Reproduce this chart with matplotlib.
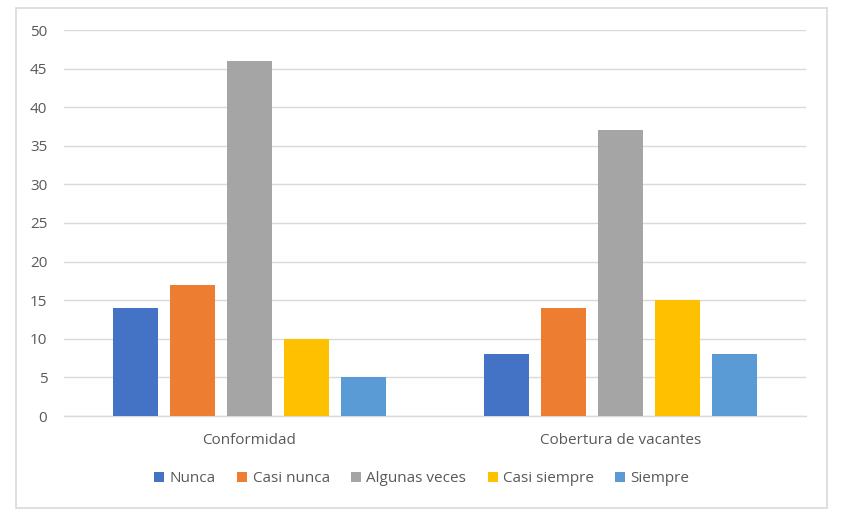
import matplotlib.pyplot as plt
import matplotlib.patches as mpatches
import numpy as np

categorias = ["Conformidad", "Cobertura de vacantes"]
series = ["Nunca", "Casi nunca", "Algunas veces", "Casi siempre", "Siempre"]
nunca = [14, 8]
casi_nunca = [17, 14]
algunas_veces = [46, 37]
casi_siempre = [10, 15]
siempre = [5, 8]

valores = [nunca, casi_nunca, algunas_veces, casi_siempre, siempre]
colores = ["#4472C4", "#ED7D31", "#A5A5A5", "#FFC000", "#5B9BD5"]

plt.rcParams['font.family'] = ['Open Sans', 'DejaVu Sans']

fig = plt.figure(figsize=(8.44, 5.16), dpi=100)
ax = fig.add_axes([64 / 844, 100 / 516, 742 / 844, 386 / 516])

x = np.arange(len(categorias))
ancho = 45 / 371
paso = 57 / 371
for i, (nombre, vals) in enumerate(zip(series, valores)):
    ax.bar(x + (i - 2) * paso, vals, width=ancho, color=colores[i], label=nombre, zorder=3)

ax.set_xlim(-0.5, 1.5)
ax.set_ylim(0, 50)
ax.set_yticks(range(0, 51, 5))
ax.set_xticks(x)
ax.set_xticklabels(categorias)
ax.yaxis.grid(True, color="#D9D9D9", linewidth=1, zorder=0)
for s in ["top", "right", "left"]:
    ax.spines[s].set_visible(False)
ax.spines["bottom"].set_color("#D9D9D9")
ax.spines["bottom"].set_linewidth(1)
ax.tick_params(axis="both", length=0, labelsize=11, colors="#595959")
ax.tick_params(axis="y", pad=12)
ax.tick_params(axis="x", pad=12)

fig.legend(loc="center", bbox_to_anchor=(0.5, (516 - 479) / 516), ncol=5, frameon=False,
           fontsize=11, labelcolor="#595959", handlelength=0.65, handleheight=0.65,
           handletextpad=0.35, columnspacing=1.4)

borde = mpatches.Rectangle((16 / 844, 8 / 516), 811 / 844, 500 / 516, transform=fig.transFigure,
                           fill=False, edgecolor="#D9D9D9", linewidth=1.2)
fig.patches.append(borde)

plt.savefig("out.png", dpi=100)
